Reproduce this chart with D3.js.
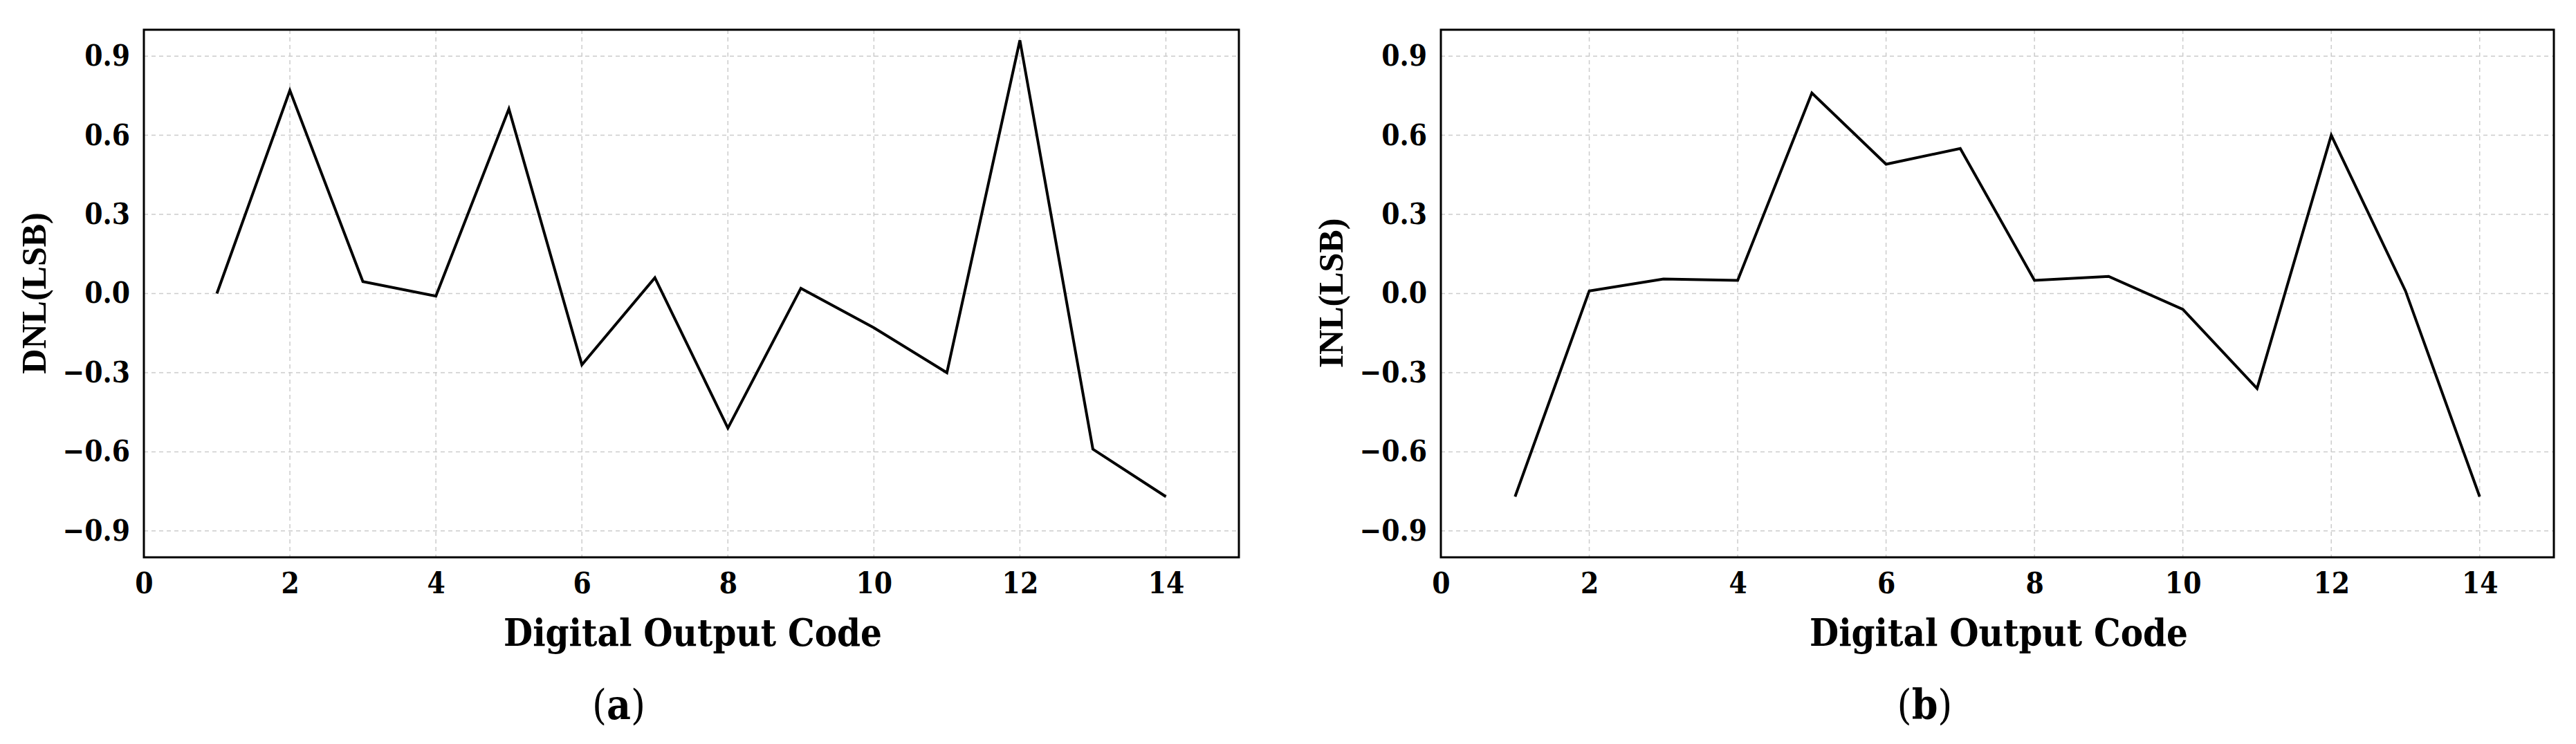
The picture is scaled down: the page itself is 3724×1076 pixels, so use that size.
<!DOCTYPE html>
<html><head><meta charset="utf-8">
<script src="https://cdn.jsdelivr.net/npm/d3@7"></script>
<style>body{margin:0;background:#fff}</style>
</head><body>
<svg id="c" width="3724" height="1076"></svg>
<script>
// digital output codes and measured nonlinearity (LSB)
var codes = [1,2,3,4,5,6,7,8,9,10,11,12,13,14];
var dnl = [0,0.77,0.045,-0.01,0.70,-0.27,0.06,-0.51,0.02,-0.13,-0.30,0.96,-0.59,-0.77];
var inl = [-0.77,0.01,0.055,0.05,0.76,0.49,0.55,0.05,0.065,-0.06,-0.36,0.60,0.01,-0.77];
var xTicks = [0,2,4,6,8,10,12,14];
var yTicks = [-0.9,-0.6,-0.3,0.0,0.3,0.6,0.9];

var svg = d3.select("#c");
var font = "'DejaVu Serif Condensed', 'Liberation Serif', serif";

function panel(left, right, vals, ylab, tag) {
	var x = d3.scaleLinear().domain([0,15]).range([left,right]);
	var y = d3.scaleLinear().domain([-1,1]).range([806,43]);
	var g = svg.append("g");

	g.selectAll("line.gx").data(xTicks.slice(1)).enter().append("line")
		.attr("x1", x).attr("x2", x).attr("y1", 43).attr("y2", 806)
		.attr("stroke", "#ccc").attr("stroke-width", 1.5).attr("stroke-dasharray", "6,5");
	g.selectAll("line.gy").data(yTicks).enter().append("line")
		.attr("x1", left).attr("x2", right).attr("y1", y).attr("y2", y)
		.attr("stroke", "#ccc").attr("stroke-width", 1.5).attr("stroke-dasharray", "6,5");

	var ax = g.append("g").attr("transform", "translate(0,806)")
		.call(d3.axisBottom(x).tickValues(xTicks).tickSize(0).tickPadding(22).tickFormat(d3.format("d")));
	var ay = g.append("g").attr("transform", "translate(" + left + ",0)")
		.call(d3.axisLeft(y).tickValues(yTicks).tickSize(0).tickPadding(20).tickFormat(d3.format(".1f")));
	[ax, ay].forEach(function(a) {
		a.select(".domain").remove();
		a.selectAll("text").attr("font-family", font).attr("font-weight", "bold")
			.attr("font-size", 42).attr("fill", "#000");
	});

	g.append("rect").attr("x", left).attr("y", 43).attr("width", right - left).attr("height", 806 - 43)
		.attr("fill", "none").attr("stroke", "#000").attr("stroke-width", 3);

	var line = d3.line().x(function(d, i) { return x(codes[i]); }).y(function(d) { return y(d); });
	g.append("path").datum(vals).attr("d", line)
		.attr("fill", "none").attr("stroke", "#000").attr("stroke-width", 4);

	g.append("text").attr("transform", "translate(" + (left - 142) + ",424) rotate(-90)")
		.attr("text-anchor", "middle").attr("font-family", "'Liberation Serif', serif")
		.attr("font-weight", "bold").attr("font-size", 50).text(ylab);
	g.append("text").attr("x", (left + right) / 2 + 2).attr("y", 934)
		.attr("text-anchor", "middle").attr("font-family", font)
		.attr("font-weight", "bold").attr("font-size", 54).text("Digital Output Code");
	var t = g.append("text").attr("x", (left + right) / 2 - 105).attr("y", 1040)
		.attr("text-anchor", "middle").attr("font-family", font).attr("font-size", 60);
	t.append("tspan").text("(");
	t.append("tspan").attr("font-weight", "bold").text(tag);
	t.append("tspan").text(")");
}

panel(208, 1791, dnl, "DNL(LSB)", "a");
panel(2083, 3692, inl, "INL(LSB)", "b");
</script>
</body></html>
